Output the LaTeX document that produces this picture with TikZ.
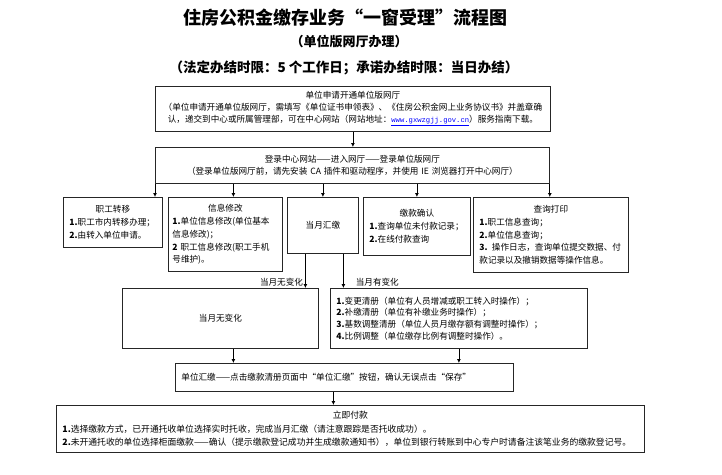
\documentclass[tikz,border=0pt]{standalone}
\usepackage{fontspec}
\setmainfont{Noto Sans CJK SC}
\newfontfamily\urlfont{Liberation Mono}
\usepackage{tikz}
\usetikzlibrary{arrows.meta,positioning,calc}
\usepackage{xcolor}
\tikzset{
  box/.style={draw=black!85, line width=0.8pt, rectangle, anchor=north west, inner xsep=6pt, inner ysep=1pt, align=left, font=\fontsize{8.6}{12.8}\selectfont},
  lbl/.style={font=\fontsize{8.6}{10}\selectfont, inner sep=1pt},
  arr/.style={-{Latex[length=4pt,width=4pt]}, line width=0.8pt},
}
\newcommand{\boxhead}[1]{\hfill#1\hfill\null\\}
\newcommand{\weburl}[1]{\textcolor{blue}{\underline{\urlfont\fontsize{7.2}{12}\selectfont #1}}}

\begin{document}
\begin{tikzpicture}[x=1pt, y=-1pt]
\useasboundingbox (0,0) rectangle (722,474);
% titulo
\node[font=\bfseries\fontsize{18}{20}\selectfont] (title) at (345,18) {住房公积金缴存业务“一窗受理”流程图};
\node[font=\bfseries\fontsize{13}{15}\selectfont] (sub) at (349,42) {（单位版网厅办理）};
\node[font=\bfseries\fontsize{13.5}{15}\selectfont] (limit) at (344,68) {（法定办结时限：5 个工作日；承诺办结时限：当日办结）};
% abertura e login
\node[box, align=center, inner xsep=3pt, text width=389pt, minimum height=45pt, font=\fontsize{8.6}{12}\selectfont] (apply) at (155,86)
  {单位申请开通单位版网厅\\（单位申请开通单位版网厅，需填写《单位证书申领表》、《住房公积金网上业务协议书》并盖章确\\认，递交到中心或所属管理部，可在中心网站（网站地址：\weburl{www.gxwzgjj.gov.cn}）服务指南下载。};
\node[box, align=center, inner xsep=3pt, text width=388pt, minimum height=36pt, font=\fontsize{8.6}{12}\selectfont] (login) at (155,147)
  {登录中心网站——进入网厅——登录单位版网厅\\（登录单位版网厅前，请先安装 CA 插件和驱动程序，并使用 IE 浏览器打开中心网厅）};
% linha de servicos
\node[box, text width=87pt, minimum height=50pt] (transfer) at (63,197)
  {\boxhead{职工转移}\textbf{1.}职工市内转移办理；\\\textbf{2.}由转入单位申请。};
\node[box, inner xsep=4pt, text width=106pt, minimum height=74pt] (info) at (168,197)
  {\boxhead{信息修改}\textbf{1.}单位信息修改(单位基本\\信息修改)；\\\textbf{2} 职工信息修改(职工手机\\号维护)。};
\node[box, align=center, text width=59pt, minimum height=56pt] (monthly) at (287,197) {当月汇缴};
\node[box, text width=95pt, minimum height=58pt] (confirm) at (363,197)
  {\boxhead{缴款确认}\textbf{1.}查询单位未付款记录；\\\textbf{2.}在线付款查询\\[6pt]};
\node[box, text width=143pt, minimum height=75pt] (query) at (473,197)
  {\boxhead{查询打印}\textbf{1.}职工信息查询；\\\textbf{2.}单位信息查询；\\\textbf{3.} 操作日志，查询单位提交数据、付\\款记录以及撤销数据等操作信息。};
%汇缴分支
\node[box, align=center, text width=184pt, minimum height=60pt] (nochange) at (122,288) {当月无变化};
\node[box, text width=245pt, minimum height=60pt, font=\fontsize{8.6}{11.6}\selectfont] (change) at (330,288)
  {\textbf{1.}变更清册（单位有人员增减或职工转入时操作）；\\\textbf{2.}补缴清册（单位有补缴业务时操作）；\\\textbf{3.}基数调整清册（单位人员月缴存额有调整时操作）；\\\textbf{4.}比例调整（单位缴存比例有调整时操作）。};
% fim
\node[box, text width=326pt, minimum height=28pt] (remit) at (175,363)
  {单位汇缴——点击缴款清册页面中“单位汇缴”按钮，确认无误点击“保存”\\[3pt]};
\node[box, text width=576pt, minimum height=47pt, font=\fontsize{8.8}{13.5}\selectfont] (pay) at (56,405)
  {\boxhead{立即付款}\textbf{1.}选择缴款方式，已开通托收单位选择实时托收，完成当月汇缴（请注意跟踪是否托收成功）。\\\textbf{2.}未开通托收的单位选择柜面缴款——确认（提示缴款登记成功并生成缴款通知书），单位到银行转账到中心专户时请备注该笔业务的缴款登记号。};
% pontos de saida
\coordinate (infoin) at ([xshift=8pt]info.north);
\coordinate (nochin) at ([xshift=-17.5pt]monthly.south);
\coordinate (chin) at ([xshift=20.5pt]monthly.south);
\coordinate (nochout) at ([xshift=13pt]nochange.south);
\coordinate (remitout) at ([xshift=-11pt]remit.south);
% setas
\draw[arr] (apply.south) -- (apply.south |- login.north);
\draw[arr] (login.south west) -- (login.south west |- transfer.north);
\draw[arr] (infoin |- login.south) -- (infoin);
\draw[arr] (monthly.north |- login.south) -- (monthly.north);
\draw[arr] (confirm.north |- login.south) -- (confirm.north);
\draw[arr] (login.south east) -- (login.south east |- query.north);
\draw[arr] (nochin) -- (nochin |- nochange.north) node[lbl, at end, anchor=south east, xshift=-1pt] {当月无变化};
\draw[arr] (chin) -- (chin |- change.north) node[lbl, at end, anchor=south west, xshift=11pt] {当月有变化};
\draw[arr] (nochout) -- (nochout |- remit.north);
\draw[arr] (change.south) -- (change.south |- remit.north);
\draw[arr] (remitout) -- (remitout |- pay.north);
\end{tikzpicture}
\end{document}
